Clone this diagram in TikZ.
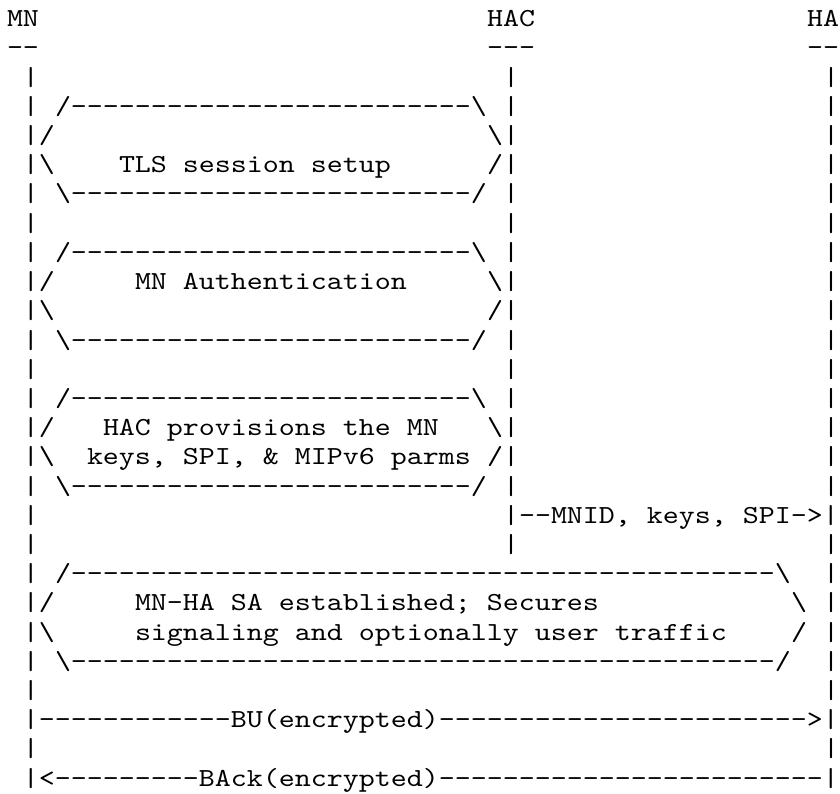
\documentclass[tikz,border=0pt]{standalone}
\usepackage{fontspec}
\newfontfamily\asciifont{lmmono10-regular.otf}[Ligatures=TeXOff,FakeStretch=1.172]
\ExplSyntaxOn
\cs_new:Npn \dsh #1 { \prg_replicate:nn {#1} {-} }
\ExplSyntaxOff
\tikzset{
  seg/.style={anchor=base west, inner sep=0pt, outer sep=0pt,
    font=\asciifont\fontsize{26}{29.2}\selectfont, text=black}
}
% \seg{row}{column}{text}: one run of characters of the figure
\newcommand\seg[3]{\node[seg] (r#1c#2) at ({(7+16*#2)*1pt},{(-26.8-29.2*(#1-1))*1pt}) {#3};}
\newcommand\bs{\textbackslash}
\begin{document}
\begin{tikzpicture}
\useasboundingbox (0,0) rectangle (840pt,-794pt);
% header
\seg{1}{0}{MN}\seg{1}{30}{HAC}\seg{1}{50}{HA}
\seg{2}{0}{--}\seg{2}{30}{---}\seg{2}{50}{--}
\seg{3}{1}{|}\seg{3}{31}{|}\seg{3}{51}{|}
% TLS session setup
\seg{4}{1}{|}\seg{4}{3}{/\dsh{25}\bs}\seg{4}{31}{|}\seg{4}{51}{|}
\seg{5}{1}{|/}\seg{5}{30}{\bs|}\seg{5}{51}{|}
\seg{6}{1}{|\bs}\seg{6}{7}{TLS session setup}\seg{6}{30}{/|}\seg{6}{51}{|}
\seg{7}{1}{|}\seg{7}{3}{\bs\dsh{25}/}\seg{7}{31}{|}\seg{7}{51}{|}
\seg{8}{1}{|}\seg{8}{31}{|}\seg{8}{51}{|}
% MN Authentication
\seg{9}{1}{|}\seg{9}{3}{/\dsh{25}\bs}\seg{9}{31}{|}\seg{9}{51}{|}
\seg{10}{1}{|/}\seg{10}{8}{MN Authentication}\seg{10}{30}{\bs|}\seg{10}{51}{|}
\seg{11}{1}{|\bs}\seg{11}{30}{/|}\seg{11}{51}{|}
\seg{12}{1}{|}\seg{12}{3}{\bs\dsh{25}/}\seg{12}{31}{|}\seg{12}{51}{|}
\seg{13}{1}{|}\seg{13}{31}{|}\seg{13}{51}{|}
% HAC provisions
\seg{14}{1}{|}\seg{14}{3}{/\dsh{25}\bs}\seg{14}{31}{|}\seg{14}{51}{|}
\seg{15}{1}{|/}\seg{15}{6}{HAC provisions the MN}\seg{15}{30}{\bs|}\seg{15}{51}{|}
\seg{16}{1}{|\bs}\seg{16}{5}{keys, SPI, \& MIPv6 parms}\seg{16}{30}{/|}\seg{16}{51}{|}
\seg{17}{1}{|}\seg{17}{3}{\bs\dsh{25}/}\seg{17}{31}{|}\seg{17}{51}{|}
% HAC -> HA
\seg{18}{1}{|}\seg{18}{31}{|--MNID, keys, SPI->|}
\seg{19}{1}{|}\seg{19}{31}{|}\seg{19}{51}{|}
% MN-HA SA
\seg{20}{1}{|}\seg{20}{3}{/\dsh{44}\bs}\seg{20}{51}{|}
\seg{21}{1}{|/}\seg{21}{8}{MN-HA SA established; Secures}\seg{21}{49}{\bs}\seg{21}{51}{|}
\seg{22}{1}{|\bs}\seg{22}{8}{signaling and optionally user traffic}\seg{22}{49}{/}\seg{22}{51}{|}
\seg{23}{1}{|}\seg{23}{3}{\bs\dsh{44}/}\seg{23}{51}{|}
\seg{24}{1}{|}\seg{24}{51}{|}
% BU / BAck
\seg{25}{1}{|\dsh{12}BU(encrypted)\dsh{23}>|}
\seg{26}{1}{|}\seg{26}{51}{|}
\seg{27}{1}{|<\dsh{9}BAck(encrypted)\dsh{24}|}
\end{tikzpicture}
\end{document}
